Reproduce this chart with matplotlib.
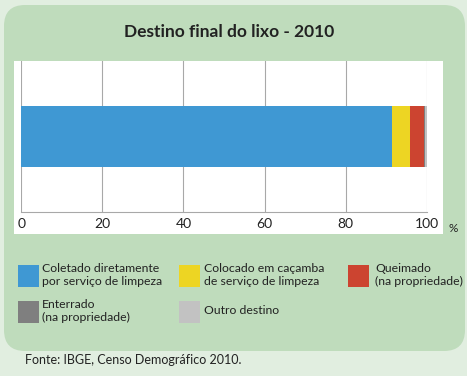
import matplotlib
matplotlib.use("Agg")
import matplotlib.pyplot as plt
from matplotlib.patches import FancyBboxPatch, Rectangle

title = "Destino final do lixo - 2010"
categories = ["Coletado diretamente\npor serviço de limpeza",
              "Colocado em caçamba\nde serviço de limpeza",
              "Queimado\n(na propriedade)",
              "Enterrado\n(na propriedade)",
              "Outro destino"]
values = [91.4, 4.5, 3.5, 0.3, 0.3]
colors = ["#3f98d3", "#edd523", "#cc4430", "#7f7f7f", "#c2c2c2"]
xticks = [0, 20, 40, 60, 80, 100]
source = "Fonte: IBGE, Censo Demográfico 2010."

plt.rcParams['font.family'] = ['Lato', 'DejaVu Sans']

W, H = 467, 376
fig = plt.figure(figsize=(W/100, H/100), dpi=100)
fig.patch.set_facecolor("#e1eee0")

def fx(x): return x / W
def fy(y): return 1 - y / H

# green panel
panel = FancyBboxPatch((fx(4), fy(351)), fx(461), (351-5)/H,
                       boxstyle="round,pad=0,rounding_size=0.045",
                       transform=fig.transFigure, facecolor="#bfdcbc",
                       edgecolor="none", mutation_aspect=W/H, zorder=-3)
fig.patches.append(panel)
# white plot panel
fig.patches.append(Rectangle((fx(14), fy(234)), fx(443-14), (234-61)/H,
                             transform=fig.transFigure, facecolor="white",
                             edgecolor="none", zorder=-2))

fig.text(fx(229), fy(32), title, ha="center", va="center",
         fontsize=12.5, fontweight="bold", color="#222222")

ax = fig.add_axes([fx(21.3), fy(212), 405.4/W, 151/H])
ax.set_zorder(2)
ax.set_facecolor("none")
left = 0
for v, c in zip(values, colors):
    ax.barh(0, v, left=left, height=0.795, color=c, edgecolor="none", zorder=3)
    left += v
ax.set_xlim(0, 100)
ax.set_ylim(-1, 1)
ax.set_xticks(xticks)
ax.set_xticklabels([str(t) for t in xticks], fontsize=10, color="#222222")
ax.tick_params(axis="x", length=0, pad=4)
ax.set_yticks([])
for s in ["top", "right", "left"]:
    ax.spines[s].set_visible(False)
ax.spines["bottom"].set_color("#a8a8a8")
ax.spines["bottom"].set_linewidth(0.8)
ax.grid(axis="x", color="#a8a8a8", linewidth=0.8, zorder=0)
fig.text(fx(453), fy(229), "%", ha="center", va="center", fontsize=8.5, color="#222222")

# legend
box_x = [18, 179, 348, 18, 179]
text_x = [42, 204, 375, 42, 204]
row_y = [265, 265, 265, 301, 301]
for i, (lab, c) in enumerate(zip(categories, colors)):
    fig.patches.append(Rectangle((fx(box_x[i]), fy(row_y[i] + 22)), 21/W, 22/H,
                                 transform=fig.transFigure, facecolor=c,
                                 edgecolor="none"))
    fig.text(fx(text_x[i]), fy(row_y[i] + 10), lab, ha="left", va="center",
             fontsize=8.8, color="#222222", linespacing=1.3)

fig.text(fx(25), fy(360), source, ha="left", va="center", fontsize=9, color="#222222")

fig.savefig("out.png", dpi=100, facecolor=fig.get_facecolor())
